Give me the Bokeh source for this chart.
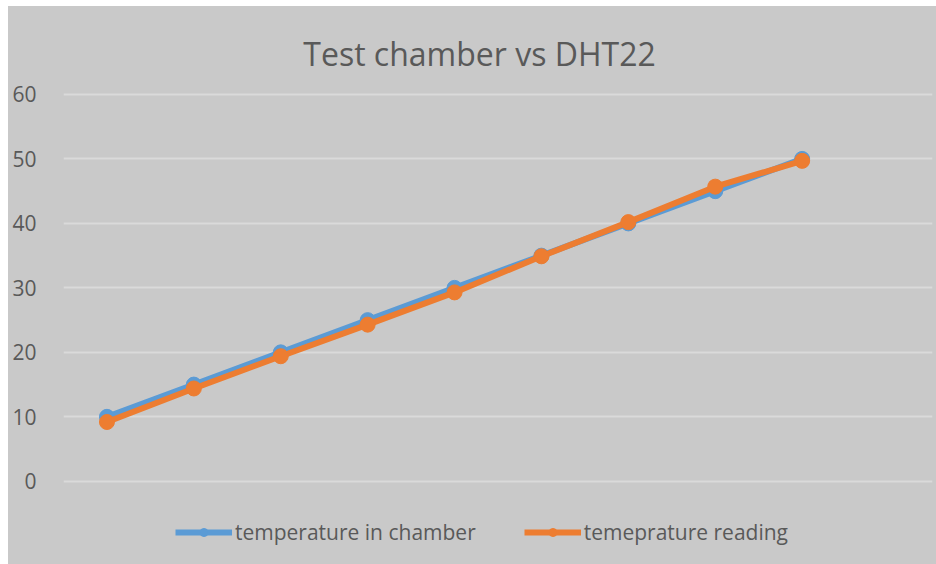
from bokeh.plotting import figure
from bokeh.models import Range1d, Legend, LegendItem, Label, FixedTicker
from bokeh.embed import file_html
from bokeh.resources import INLINE

# Data
reading_index = [1, 2, 3, 4, 5, 6, 7, 8, 9]
temperature_in_chamber = [10, 15, 20, 25, 30, 35, 40, 45, 50]
temperature_reading = [9.2, 14.4, 19.4, 24.3, 29.3, 34.9, 40.2, 45.7, 49.7]
y_ticks = [0, 10, 20, 30, 40, 50, 60]
chart_title = "Test chamber vs DHT22"

BG = "#c9c9c9"
TXT = "#595959"
BLUE = "#5b9bd5"
ORANGE = "#ed7d31"

p = figure(width=928, height=558, output_backend="svg", toolbar_location=None,
           x_range=Range1d(0.5, 10.5), y_range=Range1d(-12.9, 73.64),
           background_fill_color=BG, border_fill_color=BG,
           min_border_left=55, min_border_right=4, min_border_top=0,
           min_border_bottom=0, outline_line_color=None)
p.margin = (6, 0, 0, 8)
p.styles = {"background-color": BG}

title = Label(x=416, y=511, x_units="screen", y_units="screen", text=chart_title,
              text_align="center", text_baseline="alphabetic",
              text_font="Open Sans", text_font_size="32px", text_color=TXT)
p.add_layout(title)

p.xaxis.visible = False
p.xgrid.grid_line_color = None
p.ygrid.grid_line_color = "#dadada"
p.ygrid.grid_line_width = 2
p.yaxis.ticker = FixedTicker(ticks=y_ticks)
p.yaxis.axis_line_color = None
p.yaxis.major_tick_line_color = None
p.yaxis.minor_tick_line_color = None
p.yaxis.major_label_text_font = "Open Sans"
p.yaxis.major_label_text_font_size = "21px"
p.yaxis.major_label_text_color = TXT
p.yaxis.major_label_standoff = 21

l1 = p.line(reading_index, temperature_in_chamber, line_color=BLUE, line_width=6)
s1 = p.scatter(reading_index, temperature_in_chamber, size=15, fill_color=BLUE, line_color=BLUE)
l2 = p.line(reading_index, temperature_reading, line_color=ORANGE, line_width=6)
s2 = p.scatter(reading_index, temperature_reading, size=15, fill_color=ORANGE, line_color=ORANGE)

legend = Legend(items=[
    LegendItem(label="temperature in chamber", renderers=[l1, s1]),
    LegendItem(label="temeprature reading", renderers=[l2, s2]),
], orientation="horizontal", location=(112, 18),
    background_fill_alpha=0, border_line_color=None,
    label_text_font="Open Sans", label_text_font_size="21px", label_text_color=TXT,
    glyph_width=57, glyph_height=20, label_standoff=3, spacing=48, margin=0, padding=0)
p.add_layout(legend)

open("out.html", "w").write(file_html(p, INLINE))
